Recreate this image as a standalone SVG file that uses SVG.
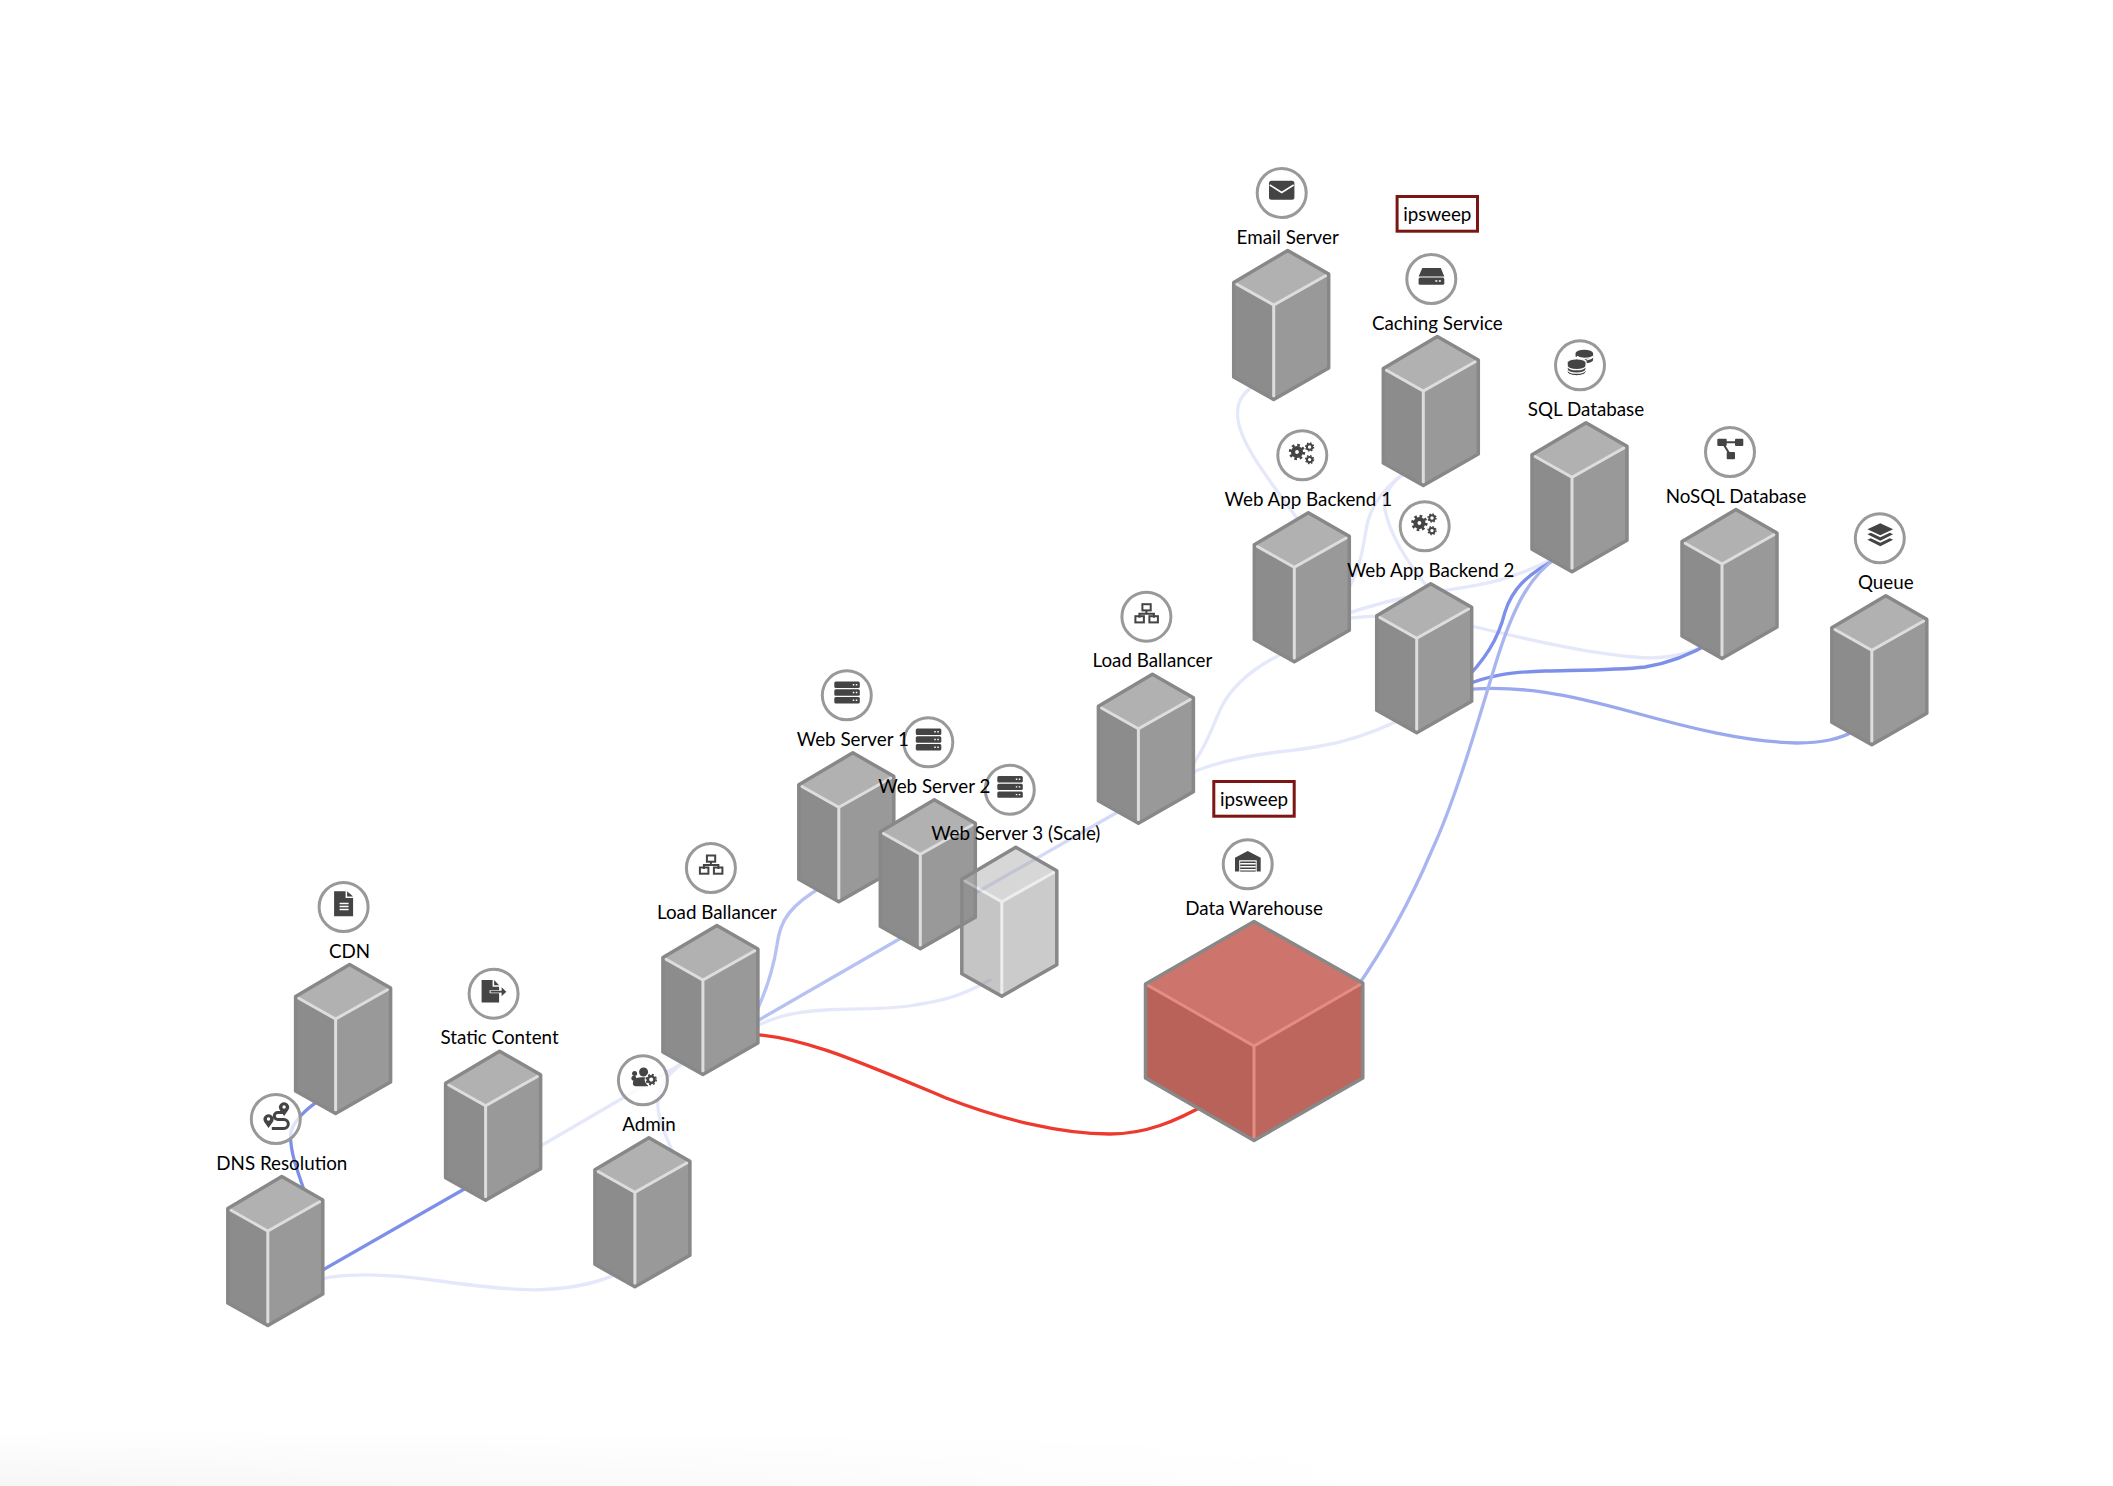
<svg xmlns="http://www.w3.org/2000/svg" width="2113" height="1486" viewBox="0 0 2113 1486">
<style>
text{font-family:Lato,"Open Sans","Liberation Sans",sans-serif;font-size:18.800px;fill:#000;text-anchor:middle}
.c{fill:none;stroke-width:3.300;stroke-linecap:round}
.s{stroke:#7d8fe8}.m{stroke:#b7c2f2}.f{stroke:#e5e8fb}.q{stroke:#9aa8ee}.d{stroke:#a9b5ef}.w{stroke:#d3d9f7}
.r{stroke:#ee3a2e}
.top{fill:#b1b1b1}.lf{fill:#8c8c8c}.rt{fill:#999}
.out{fill:none;stroke:#888;stroke-width:3.500;stroke-linejoin:round}
.in{fill:none;stroke:#ddd;stroke-width:3}
.ring{fill:#fff;fill-opacity:.75;stroke:#999;stroke-width:3}
.ic{fill:#444}.ih{fill:#fff}.il{fill:none;stroke:#fff;stroke-width:1.400}
.bx{fill:none;stroke:#444;stroke-width:2}
.tag{fill:#fff;stroke:#7b1613;stroke-width:3}
</style>
<defs>
<linearGradient id="shadeH" x1="0" y1="0" x2="1" y2="0"><stop offset="0" stop-color="#f6f6f6"/><stop offset="1" stop-color="#fff"/></linearGradient>
<linearGradient id="fadeV" x1="0" y1="0" x2="0" y2="1"><stop offset="0" stop-color="#000"/><stop offset="1" stop-color="#fff"/></linearGradient>
<mask id="fade" maskUnits="userSpaceOnUse" x="0" y="1430" width="1400" height="56"><rect x="0" y="1430" width="1400" height="56" fill="url(#fadeV)"/></mask>
<g id="faces">
<path class="top" d="M0,.5 41,24 -14,55 -54,32.500Z"/>
<path class="lf" d="M-54,32.500 -14,55 -14,149.500 -54,127Z"/>
<path class="rt" d="M-14,55 41,24 41,118 -14,149.500Z"/>
<path class="in" d="M-54,32.500 -14,55 41,24M-14,55V149.500"/>
</g>
<path id="outline" class="out" d="M0,.5 41,24 41,118 -14,149.500 -54,127 -54,32.500Z"/>
<g id="cube"><use href="#faces"/><use href="#outline"/></g>
<g id="ring"><circle class="ring" cx="0" cy="0" r="24.500"/></g>
<g id="i-server">
<rect class="ic" x="-12.500" y="-13.700" width="25.500" height="6.400" rx="1.500"/><rect class="ic" x="-12.500" y="-6" width="25.500" height="6.400" rx="1.500"/><rect class="ic" x="-12.500" y="1.700" width="25.500" height="6.400" rx="1.500"/>
<path class="il" d="M6,-10.500h1.500M9,-10.500h1.500M6,-2.800h1.500M9,-2.800h1.500M6,4.900h1.500M9,4.900h1.500"/>
</g>
<g id="i-net">
<rect class="bx" x="-4" y="-12.500" width="8.300" height="6.200"/><path class="bx" d="M0,-6.300V-3M-7,1V-3H7.500V1"/>
<rect class="bx" x="-11" y="-0.500" width="8.500" height="6.200"/><rect class="bx" x="3" y="-0.500" width="8.500" height="6.200"/>
</g>
<g id="i-cogs">
<circle cx="-5.300" cy="-3.300" r="6.800" fill="none" stroke="#444" stroke-width="2.800" stroke-dasharray="2.600 2.740"/>
<circle cx="-5.300" cy="-3.300" r="4" fill="none" stroke="#444" stroke-width="4.200"/>
<circle cx="7.300" cy="-8.300" r="2.700" fill="none" stroke="#444" stroke-width="2"/>
<circle cx="7.300" cy="4.300" r="2.700" fill="none" stroke="#444" stroke-width="2"/>
<circle cx="7.300" cy="-8.300" r="4" fill="none" stroke="#444" stroke-width="1.400" stroke-dasharray="1.500 1.640"/>
<circle cx="7.300" cy="4.300" r="4" fill="none" stroke="#444" stroke-width="1.400" stroke-dasharray="1.500 1.640"/>
</g>
</defs>
<rect width="2113" height="1486" fill="#fff"/>
<rect x="0" y="1430" width="1400" height="56" fill="url(#shadeH)" mask="url(#fade)"/>
<g id="connectors">
<path class="c s" d="M335,1090C318,1100 290,1118 290.500,1137C291,1155 298,1172 304,1190"/>
<path class="c s" d="M300,1283L480,1180"/>
<path class="c f" d="M520,1158L700,1053"/>
<path class="c f" d="M310,1282C340,1272 390,1274 440,1281C490,1288 520,1291 544,1289.500C575,1288 600,1283 625,1270"/>
<path class="c f" d="M676,1160C668,1140 656,1118 658,1100C659,1085 668,1072 690,1058"/>
<path class="c m" d="M750,1025C768,990 774,965 777,945C780,920 790,905 825,885"/>
<path class="c m" d="M745,1028L915,930"/>
<path class="c f" d="M745,1032C770,1018 790,1012 825,1010C860,1008 890,1010 915,1005C940,1001 960,997 990,980"/>
<path class="c r" d="M745,1034C800,1035 860,1062 946,1098C1000,1119 1060,1134 1110,1134C1145,1134 1175,1122 1210,1102"/>
<path class="c w" d="M960,902L1130,805"/>
<path class="c f" d="M1185,775C1205,750 1212,728 1220,710C1230,688 1250,668 1290,650"/>
<path class="c f" d="M1180,778C1205,765 1235,758 1270,753C1310,748 1355,745 1415,712"/>
<path class="c f" d="M1262,380C1245,390 1235,400 1238,420C1242,445 1265,475 1300,522"/>
<path class="c f" d="M1415,465C1385,485 1370,505 1366,530C1362,555 1360,570 1340,605"/>
<path class="c f" d="M1410,470C1392,480 1382,495 1385,510C1390,535 1405,560 1430,590"/>
<path class="c f" d="M1335,618C1370,605 1400,597 1440,591C1480,585 1510,582 1560,555"/>
<path class="c f" d="M1335,620C1390,612 1430,616 1480,628C1530,640 1590,654 1640,657.500C1665,659 1690,655 1710,642"/>
<path class="c s" d="M1460,685C1485,660 1498,640 1505,612C1512,590 1525,575 1560,557"/>
<path class="c s" d="M1460,687C1490,675 1510,672 1545,671C1590,670 1620,670 1645,667C1670,663 1690,655 1712,642"/>
<path class="c q" d="M1460,690C1520,684 1570,695 1632,712C1690,728 1745,742 1797,743C1820,743 1840,740 1860,728"/>
<path class="c d" d="M1560,555C1530,575 1515,605 1500,650C1485,695 1460,790 1432,850C1415,890 1390,940 1355,990"/>
</g>
<g id="node-email" transform="translate(1287.700,250)">
<use href="#cube"/><g transform="translate(-6,-57)"><use href="#ring"/>
<rect class="ic" x="-12.700" y="-12.300" width="25.400" height="19" rx="2.500"/><path d="M-12,-8L0,-0.500 12,-8" fill="none" stroke="#fff" stroke-width="1.500"/></g>
<text x="0" y="-6.500">Email Server</text>
</g>
<g id="node-caching" transform="translate(1437.300,336)">
<use href="#cube"/><g transform="translate(-6,-57)"><use href="#ring"/>
<path class="ic" d="M-9,-11H9.500L13,-2.500H-12.700Z"/><rect class="ic" x="-12.700" y="-1.500" width="25.700" height="7.200" rx="1.500"/><path class="il" d="M4,2h2M7.500,2h2"/></g>
<text x="0" y="-6.500">Caching Service</text>
<g transform="translate(0,-141)"><rect class="tag" x="-40.200" y="1.500" width="80.400" height="34.700"/><text x="0" y="26">ipsweep</text></g>
</g>
<g id="node-sql" transform="translate(1586,422.300)">
<use href="#cube"/><g transform="translate(-6,-57)"><use href="#ring"/>
<path class="ic" d="M-4.500,-12a8.800,3.500 0 0 1 17.600,0v6.500c0,1.800 -3,3.200 -6.500,3.500v-2a12,5 0 0 0 -11,-4.500Z"/>
<path d="M-3,-9a8.800,3.500 0 0 0 16,0M6.500,-5.500c3,-.4 5.500,-1.300 6.600,-2.800" fill="none" stroke="#fff" stroke-width="1.200"/>
<path class="ic" stroke="#fff" stroke-width="1" d="M-12.800,-2.500a9.400,3.900 0 0 1 18.800,0v9a9.400,3.900 0 0 1 -18.800,0Z"/>
<path d="M-12.800,0.500a9.400,3.900 0 0 0 18.800,0M-12.800,4a9.400,3.900 0 0 0 18.800,0" fill="none" stroke="#fff" stroke-width="1.300"/></g>
<text x="0" y="-6.500">SQL Database</text>
</g>
<g id="node-nosql" transform="translate(1736,509)">
<use href="#cube"/><g transform="translate(-6,-57)"><use href="#ring"/>
<rect class="ic" x="-12.700" y="-13.300" width="9.400" height="7.300" rx="1"/><rect class="ic" x="5" y="-13.300" width="8.300" height="7.300" rx="1"/><rect class="ic" x="-3.300" y="0" width="8.300" height="7.300" rx="1"/>
<path d="M-4,-9.700H6M-6,-7L-1,1" stroke="#444" stroke-width="2" fill="none"/></g>
<text x="0" y="-6.500">NoSQL Database</text>
</g>
<g id="node-queue" transform="translate(1885.800,595.300)">
<use href="#cube"/><g transform="translate(-6,-57)"><use href="#ring"/>
<path class="ic" d="M0.500,-15L13.300,-9 0.500,-3 -12.400,-9Z"/><path class="ic" d="M-12.400,-4L-9,-5.500 0.500,-1 10,-5.500 13.300,-4 0.500,2.500Z"/><path class="ic" d="M-12.400,1.500L-9,0 0.500,4.500 10,0 13.300,1.500 0.500,8Z"/></g>
<text x="0" y="-6.500">Queue</text>
</g>
<g id="node-backend1" transform="translate(1308.300,512.300)">
<use href="#cube"/><g transform="translate(-6,-57)"><use href="#ring"/><use href="#i-cogs"/></g>
<text x="0" y="-6.500">Web App Backend 1</text>
</g>
<g id="node-backend2" transform="translate(1430.700,583.300)">
<use href="#cube"/><g transform="translate(-6,-57)"><use href="#ring"/><use href="#i-cogs"/></g>
<text x="0" y="-6.500">Web App Backend 2</text>
</g>
<g id="node-lb2" transform="translate(1152.400,673.700)">
<use href="#cube"/><g transform="translate(-6,-57)"><use href="#ring"/><use href="#i-net"/></g>
<text x="0" y="-6.500">Load Ballancer</text>
</g>
<g id="node-ws1" transform="translate(852.800,752.300)">
<use href="#cube"/><g transform="translate(-6,-57)"><use href="#ring"/><use href="#i-server"/></g>
</g>
<g id="node-ws2" transform="translate(934.300,799.300)">
<use href="#cube"/><g transform="translate(-6,-57)"><use href="#ring"/><use href="#i-server"/></g>
</g>
<g id="node-ws3" transform="translate(1015.800,846.700)">
<use href="#faces" opacity=".5"/><use href="#outline"/><g transform="translate(-6,-57)"><use href="#ring"/><use href="#i-server"/></g>
</g>
<g id="labels-web-servers">
<text x="852.800" y="745.800">Web Server 1</text>
<text x="934.300" y="792.800">Web Server 2</text>
<text x="1015.800" y="840.200">Web Server 3 (Scale)</text>
</g>
<g id="node-lb1" transform="translate(716.900,925)">
<use href="#cube"/><g transform="translate(-6,-57)"><use href="#ring"/><use href="#i-net"/></g>
<text x="0" y="-6.500">Load Ballancer</text>
</g>
<g id="node-warehouse" transform="translate(1254,921)">
<path d="M0,.5 108.800,62 0,125 -108.500,63Z" fill="#cd746c"/>
<path d="M-108.500,63 0,125 0,219.500 -108.500,157Z" fill="#b8625a"/>
<path d="M0,125 108.800,62 108.800,157 0,219.500Z" fill="#bd665e"/>
<path d="M-108.500,63 0,125 108.800,62M0,125V219.500" fill="none" stroke="#e38d85" stroke-width="3"/>
<path class="out" d="M0,.5 108.800,62 108.800,157 0,219.500 -108.500,157 -108.500,63Z"/>
<g transform="translate(-6.300,-56.700)"><use href="#ring"/>
<path class="ic" d="M-12.700,7.300V-6.500L0,-13.300 13,-6.500V7.300H9V-4H-8.500V7.300Z"/>
<rect class="ic" x="-7.500" y="-2.800" width="15.500" height="10.100"/><path class="il" d="M-7.500,-0.500H8M-7.500,2.500H8M-7.500,5.500H8"/></g>
<text x="0" y="-6.500">Data Warehouse</text>
<g transform="translate(0,-141)"><rect class="tag" x="-40.200" y="1.500" width="80.400" height="34.700"/><text x="0" y="26">ipsweep</text></g>
</g>
<g id="node-cdn" transform="translate(349.600,964)">
<use href="#cube"/><g transform="translate(-6,-57)"><use href="#ring"/>
<path class="ic" d="M-9.500,-15.700H2V-9H9.500V9.300H-9.500Z"/><path class="ic" d="M3.500,-15.700L9.500,-10.500H3.500Z"/><path class="il" d="M-4,-3.500H5M-4,-0.500H5M-4,2.500H5"/></g>
<text x="0" y="-6.500">CDN</text>
</g>
<g id="node-static" transform="translate(499.600,1050.700)">
<use href="#cube"/><g transform="translate(-6,-57)"><use href="#ring"/>
<path class="ic" d="M-12,-13.700H-1V-7H5.500V-3.500H-4V-0.500H5.500V8.700H-12Z"/><path class="ic" d="M0.500,-13.700L5.500,-8.500H0.500Z"/><path d="M-3,-2H9" stroke="#444" stroke-width="1.800"/><path class="ic" d="M8,-6.500L12.700,-2 8,2.500Z"/></g>
<text x="0" y="-6.500">Static Content</text>
</g>
<g id="node-dns" transform="translate(281.800,1176)">
<use href="#cube"/><g transform="translate(-6,-57)"><use href="#ring"/>
<path d="M-4,9.500H8a4.500,4.500 0 0 0 0,-9H2a3.500,3.500 0 0 1 0,-7H7" fill="none" stroke="#444" stroke-width="3"/>
<path class="ic" d="M-7.300,9L-11.500,3A5,5 0 1 1 -3,3Z"/><circle class="ih" cx="-7.300" cy="0" r="1.700"/>
<path class="ic" d="M8.300,-3L4,-9A5,5 0 1 1 12.500,-9Z"/><circle class="ih" cx="8.300" cy="-12" r="1.700"/></g>
<text x="0" y="-6.500">DNS Resolution</text>
</g>
<g id="node-admin" transform="translate(648.900,1137.300)">
<use href="#cube"/><g transform="translate(-6,-57)"><use href="#ring"/>
<circle class="ic" cx="0.700" cy="-8.300" r="4.500"/><circle class="ic" cx="-8.300" cy="-6.700" r="2.500"/><circle class="ic" cx="-9" cy="-2" r="2.500"/>
<path class="ic" d="M-10,3C-10,-2 -5,-3 0,-3H5V6H-7C-9,6 -10,5 -10,3Z"/>
<circle cx="8.300" cy="-0.700" r="5.600" fill="none" stroke="#fff" stroke-width="2"/>
<circle cx="8.300" cy="-0.700" r="3.300" fill="none" stroke="#444" stroke-width="2.500"/>
<circle cx="8.300" cy="-0.700" r="5" fill="none" stroke="#444" stroke-width="1.600" stroke-dasharray="2 1.930"/></g>
<text x="0" y="-6.500">Admin</text>
</g>
</svg>
